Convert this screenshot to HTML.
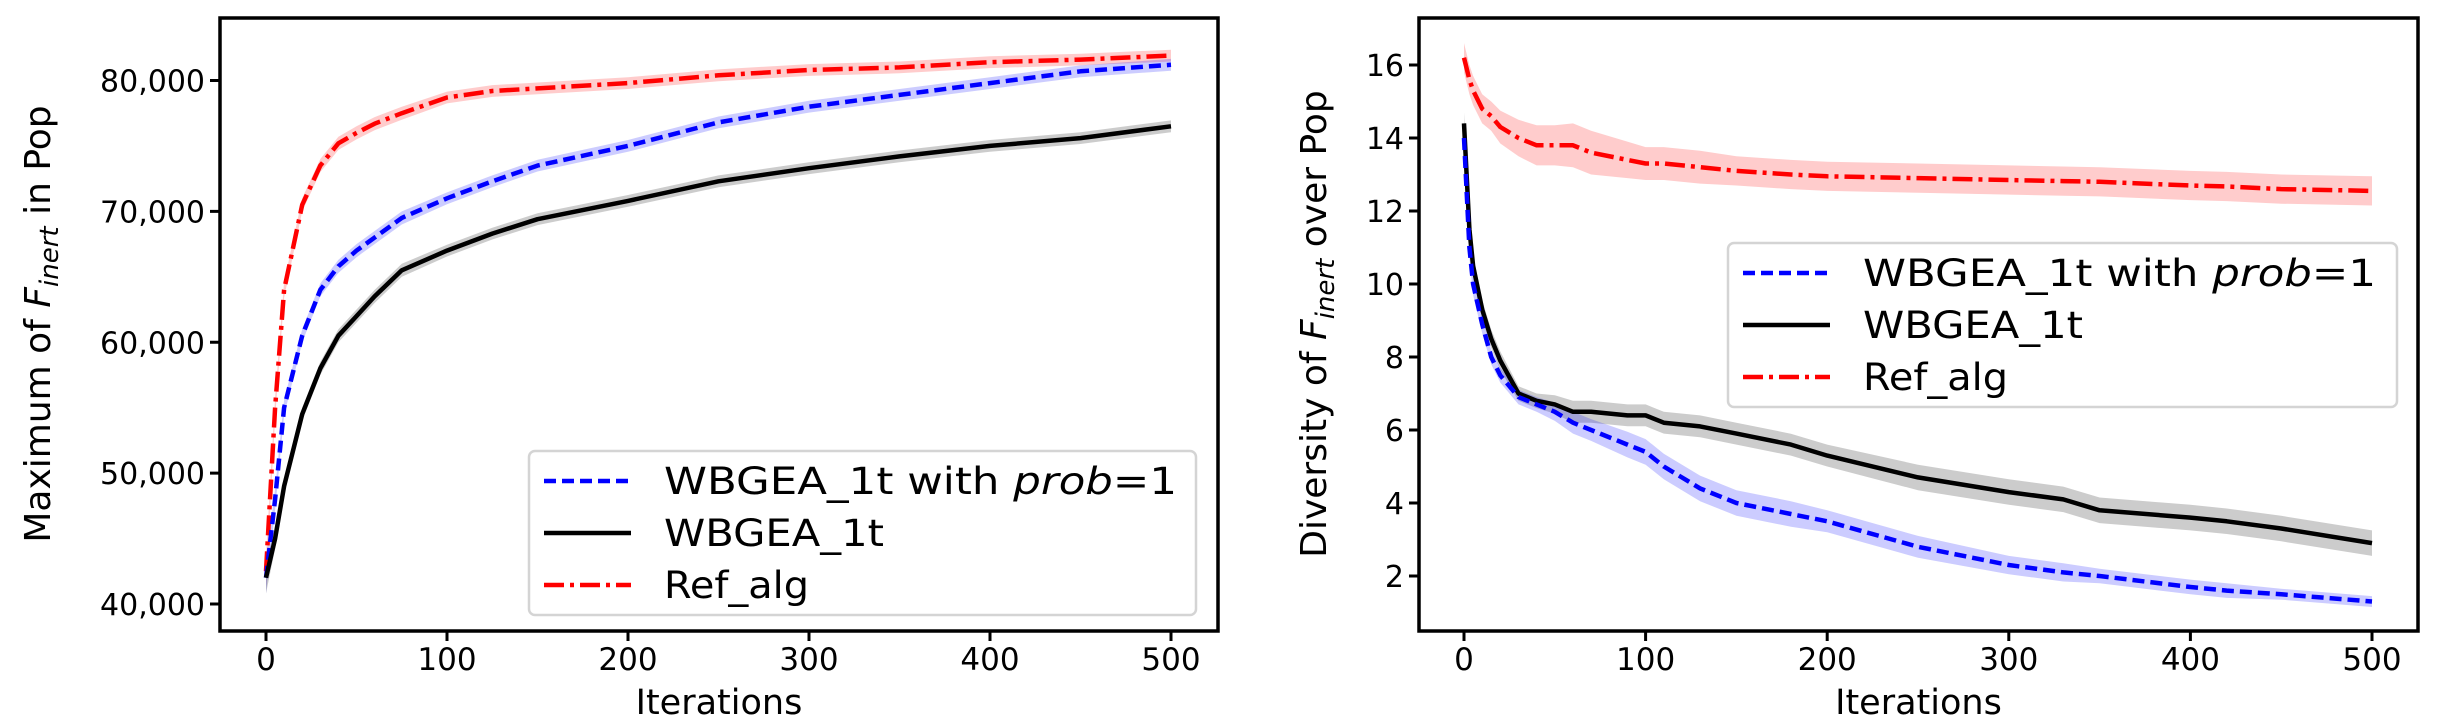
<!DOCTYPE html>
<html><head><meta charset="utf-8"><style>
body{margin:0;background:#fff;}
svg{display:block;font-family:"DejaVu Sans","Liberation Sans",sans-serif;}
</style></head><body>
<svg id="fig" width="2438" height="728" viewBox="0 0 2438 728"></svg>
<script>
// ---- Left chart data ----
const leftIter = [0,5,10,20,30,40,50,60,75,100,125,150,200,250,300,350,400,450,500];
const leftRef  = [42500,55000,64000,70500,73500,75200,76000,76700,77500,78700,79200,79400,79800,80400,80800,81000,81400,81600,81900];
const leftBlue = [42000,48000,55000,60500,64000,65800,67000,68000,69500,71000,72300,73500,75000,76800,78000,78900,79800,80700,81200];
const leftBlack= [42000,45000,49000,54500,58000,60500,62000,63500,65500,67000,68300,69400,70800,72300,73300,74200,75000,75600,76500];
const leftBand = [1200,800,600,500,500,500,500,500,500,450,450,450,450,450,450,450,450,450,450];
const leftYTicks = [40000,50000,60000,70000,80000];
const leftYLabels = ["40,000","50,000","60,000","70,000","80,000"];
// ---- Right chart data ----
const rightIter = [0,3,5,10,15,20,30,40,50,60,70,90,100,110,130,150,180,200,250,300,330,350,400,420,450,500];
const rightRef  = [16.2,15.6,15.3,14.8,14.6,14.3,14.0,13.8,13.8,13.8,13.6,13.4,13.3,13.3,13.2,13.1,13.0,12.95,12.9,12.85,12.82,12.8,12.7,12.67,12.6,12.55];
const rightBlack= [14.4,11.5,10.5,9.3,8.5,7.9,7.0,6.8,6.7,6.5,6.5,6.4,6.4,6.2,6.1,5.9,5.6,5.3,4.7,4.3,4.1,3.8,3.6,3.5,3.3,2.9];
const rightBlue = [14.0,11.0,10.0,8.9,8.0,7.5,6.9,6.7,6.5,6.2,6.0,5.6,5.4,5.0,4.4,4.0,3.7,3.5,2.8,2.3,2.1,2.0,1.7,1.6,1.5,1.3];
const rightRefBand = [0.4,0.4,0.4,0.4,0.4,0.45,0.5,0.55,0.55,0.6,0.6,0.5,0.45,0.45,0.45,0.4,0.4,0.4,0.4,0.4,0.4,0.4,0.4,0.4,0.4,0.4];
const rightBlackBand=[0.3,0.3,0.3,0.25,0.25,0.25,0.2,0.2,0.25,0.3,0.3,0.3,0.3,0.3,0.3,0.3,0.3,0.3,0.35,0.35,0.35,0.35,0.35,0.35,0.35,0.35];
const rightBlueBand =[0.3,0.3,0.3,0.25,0.2,0.2,0.2,0.2,0.25,0.3,0.3,0.35,0.35,0.35,0.35,0.35,0.35,0.3,0.3,0.25,0.25,0.2,0.2,0.2,0.15,0.15];
const rightYTicks = [2,4,6,8,10,12,14,16];
const xTicks = [0,100,200,300,400,500];

const NS="http://www.w3.org/2000/svg";
const svg=document.getElementById('fig');
function mk(tag,attrs,parent){const e=document.createElementNS(NS,tag);for(const k in attrs)e.setAttribute(k,attrs[k]);(parent||svg).appendChild(e);return e;}

function drawChart(cfg){
  const g=mk('g',{});
  
  
  const sx=v=>cfg.x0+(v-0)*(cfg.x500-cfg.x0)/500;
  const sy=v=>cfg.yA+(v-cfg.vA)*(cfg.yB-cfg.yA)/(cfg.vB-cfg.vA);
  cfg.series.forEach(s=>{
    let d='';
    cfg.iter.forEach((it,i)=>{d+=(i?'L':'M')+sx(it).toFixed(1)+','+sy(s.vals[i]+s.band[i]).toFixed(1);});
    for(let i=cfg.iter.length-1;i>=0;i--) d+='L'+sx(cfg.iter[i]).toFixed(1)+','+sy(s.vals[i]-s.band[i]).toFixed(1);
    const p=mk('path',{d:d+'Z',fill:s.fill,'fill-opacity':s.fop},g);
    
    
  });
  cfg.series.forEach(s=>{
    const pts=cfg.iter.map((it,i)=>sx(it).toFixed(1)+','+sy(s.vals[i]).toFixed(1)).join(' ');
    const l=mk('polyline',{points:pts,fill:'none',stroke:s.color,'stroke-width':4.5,'stroke-dasharray':s.dash,'stroke-linejoin':'round'},g);
    
    
  });
  const f=mk('rect',{x:cfg.fx,y:18,width:cfg.fw,height:613,fill:'none',stroke:'#000','stroke-width':3.5},g);
  
  
  xTicks.forEach(t=>{
    mk('line',{x1:sx(t),x2:sx(t),y1:631,y2:641,stroke:'#000','stroke-width':3},g);
    const tx=mk('text',{x:sx(t),y:670,'font-size':31,'text-anchor':'middle'},g);
    tx.textContent=t;
    
    
  });
  cfg.yTicks.forEach((t,i)=>{
    mk('line',{x1:cfg.fx-10,x2:cfg.fx,y1:sy(t),y2:sy(t),stroke:'#000','stroke-width':3},g);
    const tx=mk('text',{x:cfg.fx-15,y:sy(t)+11,'font-size':30,'text-anchor':'end'},g);
    tx.textContent=cfg.yLabels[i];
    
    
  });
  const xl=mk('text',{x:(cfg.fx+cfg.fx+cfg.fw)/2,y:714,'font-size':35,'text-anchor':'middle'},g);
  xl.textContent='Iterations';
  
  
  const yl=mk('text',{x:0,y:0,'font-size':36,'text-anchor':'middle',transform:`translate(${cfg.ylx},${cfg.yly}) rotate(-90)`},g);
  yl.innerHTML=cfg.ylab+' of <tspan font-style="italic">F</tspan><tspan font-style="italic" font-size="26" dy="8">inert</tspan><tspan dy="-8"> '+cfg.ylab2+'</tspan>';
  
  
  const lg=mk('g',{},g);
  
  
  mk('rect',{x:cfg.lx,y:cfg.ly,width:cfg.lw,height:164,rx:6,fill:'#fff','fill-opacity':0.85,stroke:'#d4d4d4','stroke-width':2.5},lg);
  const items=[['blue','WBGEA_1t with ','#0000ff','12,6',513],['black','WBGEA_1t','#000','none',220],['red','Ref_alg','#ff0000','20,6,4,6',145]];
  items.forEach((it,i)=>{
    const yy=cfg.ly+30+i*52;
    const e=mk('g',{},lg);
    
    
    mk('line',{x1:cfg.lx+15,x2:cfg.lx+102,y1:yy,y2:yy,stroke:it[2],'stroke-width':4.5,'stroke-dasharray':it[3]},e);
    const t=mk('text',{x:cfg.lx+135,y:yy+13,'font-size':37,textLength:it[4],lengthAdjust:'spacingAndGlyphs'},e);
    t.innerHTML=it[1]+(i==0?'<tspan font-style="italic">prob</tspan>=1':'');
  });
}

drawChart({name:'left-chart',x0:266,x500:1171,fx:220,fw:998,yA:604,vA:40000,yB:80.5,vB:80000,
  iter:leftIter,yTicks:leftYTicks,yLabels:leftYLabels,ylab:'Maximum',ylab2:'in Pop',ylx:50,yly:324,
  lx:529,ly:451,lw:667,
  series:[
    {key:'ref-alg',vals:leftRef,band:leftBand,color:'#ff0000',fill:'#ff0000',fop:0.2,dash:'20,6,4,6'},
    {key:'wbgea-prob1',vals:leftBlue,band:leftBand,color:'#0000ff',fill:'#0000ff',fop:0.2,dash:'12,6'},
    {key:'wbgea-1t',vals:leftBlack,band:leftBand,color:'#000',fill:'#000',fop:0.2,dash:'none'}]});

drawChart({name:'right-chart',x0:1464,x500:2372,fx:1419,fw:999,yA:65,vA:16,yB:576,vB:2,
  iter:rightIter,yTicks:rightYTicks,yLabels:rightYTicks.map(String),ylab:'Diversity',ylab2:'over Pop',ylx:1326,yly:324,
  lx:1728,ly:243,lw:669,
  series:[
    {key:'ref-alg',vals:rightRef,band:rightRefBand,color:'#ff0000',fill:'#ff0000',fop:0.2,dash:'20,6,4,6'},
    {key:'wbgea-1t',vals:rightBlack,band:rightBlackBand,color:'#000',fill:'#000',fop:0.2,dash:'none'},
    {key:'wbgea-prob1',vals:rightBlue,band:rightBlueBand,color:'#0000ff',fill:'#0000ff',fop:0.2,dash:'12,6'}]});
</script>
</body></html>
